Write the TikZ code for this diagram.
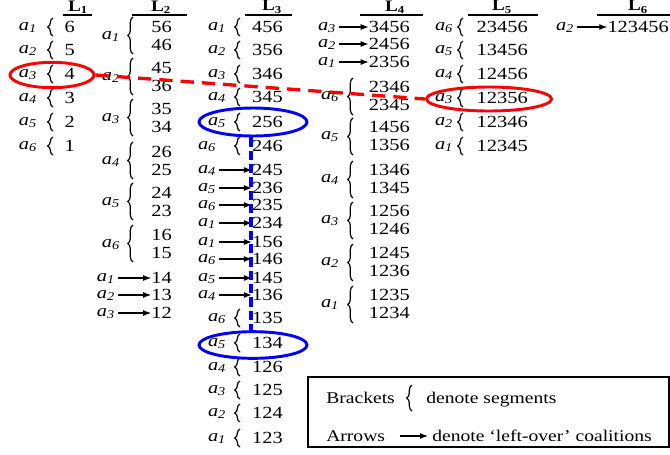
\documentclass[tikz,border=0pt]{standalone}
\usepackage{fontspec}
\setmainfont[FakeStretch=1.2]{Liberation Serif}
\usetikzlibrary{decorations.pathreplacing,shapes.geometric,arrows.meta}

\newcommand{\ag}[1]{\textit{a}\textsubscript{\textit{#1}}}
\newcommand{\lhead}[1]{\textbf{L}\textsubscript{\textbf{#1}}}

\begin{document}
\begin{tikzpicture}[
    x=0.75pt, y=-0.75pt,
    font=\fontsize{12.75}{15}\selectfont,
    lab/.style={anchor=mid, inner sep=0pt},
    num/.style={anchor=east, inner sep=0pt},
    head/.style={inner sep=0pt, font=\fontsize{12}{14}\selectfont},
    seg/.style={decorate, decoration={brace, amplitude=4pt}, line width=0.9pt},
    arrow/.style={-{Latex[length=6pt,width=4.5pt]}, line width=0.8pt, shorten <=2pt},
    redring/.style={ellipse, draw=red, line width=2.2pt, inner sep=0pt},
    bluering/.style={ellipse, draw=blue, line width=2.2pt, inner sep=0pt},
    reddash/.style={red, line width=2.5pt, dash pattern=on 10pt off 6pt},
    bluedash/.style={blue, line width=3pt, dash pattern=on 7pt off 3pt},
    legtext/.style={anchor=base west, inner sep=0pt, font=\fontsize{12.25}{14}\selectfont}
]
\useasboundingbox (0,0) rectangle (670,454);

% Column headers
\foreach \k/\hx/\xl/\xr in {1/78/63/92, 2/161/132/187, 3/272/245/292, 4/395/360/423, 5/502/468/538, 6/638/597/670} {
    \node[head] (h\k) at (\hx,7) {\lhead{\k}};
    \draw[line width=0.8pt] (\xl,15) -- (\xr,15);
}

% L1
\foreach \n/\y [count=\i] in {6/27,5/50,4/74,3/98,2/122,1/146} {
    \node[lab] (l1a\i) at (28,\y) {\ag{\i}};
    \draw[seg] (53,\y+9) -- (53,\y-9);
    \node[num] (l1n\i) at (75,\y) {\n};
}

% L2 segments
\foreach \p/\q/\y [count=\i] in {56/46/27, 45/36/68, 35/34/109, 26/25/152, 24/23/193, 16/15/235} {
    \node[lab] (l2a\i) at (111,\y+9) {\ag{\i}};
    \draw[seg] (133,\y+27) -- (133,\y-10);
    \node[num] (l2p\i) at (172,\y) {\p};
    \node[num] (l2q\i) at (172,\y+18) {\q};
}
% L2 left-overs
\foreach \n/\y [count=\i] in {14/278,13/295,12/313} {
    \node[lab] (l2b\i) at (106,\y) {\ag{\i}};
    \node[num] (l2r\i) at (172,\y) {\n};
    \draw[arrow] (l2b\i.east |- l2r\i.west) -- (l2r\i.west);
}

% L3 segments (top)
\foreach \a/\n/\y/\lx [count=\i] in {1/456/27/217, 2/356/50/217, 3/346/74/217, 4/345/97/217, 5/256/122/217, 6/246/146/207} {
    \node[lab] (l3a\i) at (\lx,\y) {\ag{\a}};
    \draw[seg] (240,\y+9) -- (240,\y-9);
    \node[num] (l3n\i) at (283,\y) {\n};
}
% L3 left-overs
\foreach \a/\n/\y [count=\i] in {4/245/170, 5/236/188, 6/235/205, 1/234/223, 1/156/242, 6/146/259, 5/145/278, 4/136/295} {
    \node[lab] (l3b\i) at (207,\y) {\ag{\a}};
    \node[num] (l3r\i) at (283,\y) {\n};
    \draw[arrow] (l3b\i.east |- l3r\i.west) -- (l3r\i.west);
}
% L3 segments (bottom)
\foreach \a/\n/\y [count=\i] in {6/135/318, 5/134/343, 4/126/367, 3/125/390, 2/124/413, 1/123/438} {
    \node[lab] (l3c\i) at (217,\y) {\ag{\a}};
    \draw[seg] (240,\y+9) -- (240,\y-9);
    \node[num] (l3m\i) at (283,\y) {\n};
}

% L4 left-overs
\foreach \a/\n/\y [count=\i] in {3/3456/27, 2/2456/44, 1/2356/62} {
    \node[lab] (l4b\i) at (327,\y) {\ag{\a}};
    \node[num] (l4r\i) at (410,\y) {\n};
    \draw[arrow] (l4b\i.east |- l4r\i.west) -- (l4r\i.west);
}
% L4 segments
\foreach \a/\p/\q/\y [count=\i] in {6/2346/2345/87, 5/1456/1356/127, 4/1346/1345/170, 3/1256/1246/211, 2/1245/1236/253, 1/1235/1234/295} {
    \node[lab] (l4a\i) at (330,\y+9) {\ag{\a}};
    \draw[seg] (353,\y+28) -- (353,\y-9);
    \node[num] (l4p\i) at (410,\y) {\p};
    \node[num] (l4q\i) at (410,\y+18) {\q};
}

% L5
\foreach \a/\n/\y [count=\i] in {6/23456/27, 5/13456/50, 4/12456/74, 3/12356/98, 2/12346/122, 1/12345/146} {
    \node[lab] (l5a\i) at (444,\y) {\ag{\a}};
    \draw[seg] (463,\y+9) -- (463,\y-9);
    \node[num] (l5n\i) at (528,\y) {\n};
}

% L6
\node[lab] (l6b1) at (565,27) {\ag{2}};
\node[num] (l6r1) at (669,27) {123456};
\draw[arrow] (l6b1.east |- l6r1.west) -- (l6r1.west);

% Highlighted coalitions
\node[redring, minimum width=63pt, minimum height=19pt] (rring1) at (52,75) {};
\node[redring, minimum width=93.75pt, minimum height=18pt] (rring2) at (489,99) {};
\draw[reddash] (rring1.east) -- (rring2.west);

\node[bluering, minimum width=81pt, minimum height=21pt] (bring1) at (253,122) {};
\node[bluering, minimum width=81pt, minimum height=20pt] (bring2) at (253,345) {};
\draw[bluedash] ([xshift=-1.5pt]bring1.south) -- ([xshift=-1.5pt]bring2.north);

% Legend
\node[draw, line width=1.3pt, minimum width=270.75pt, minimum height=53pt, inner sep=0pt] (legend) at (488.5,412) {};
\node[legtext] (brk) at (326,403.5) {Brackets};
\draw[seg] (412,411) -- (412,385);
\node[legtext] (brktxt) at (426,403.5) {denote segments};
\node[legtext] (arw) at (326,441) {Arrows};
\coordinate (arwtail) at (400,436);
\coordinate (arwhead) at (428,436);
\draw[arrow, shorten <=0pt] (arwtail) -- (arwhead);
\node[legtext] (arwtxt) at (432,441) {denote `left-over' coalitions};

\end{tikzpicture}
\end{document}
